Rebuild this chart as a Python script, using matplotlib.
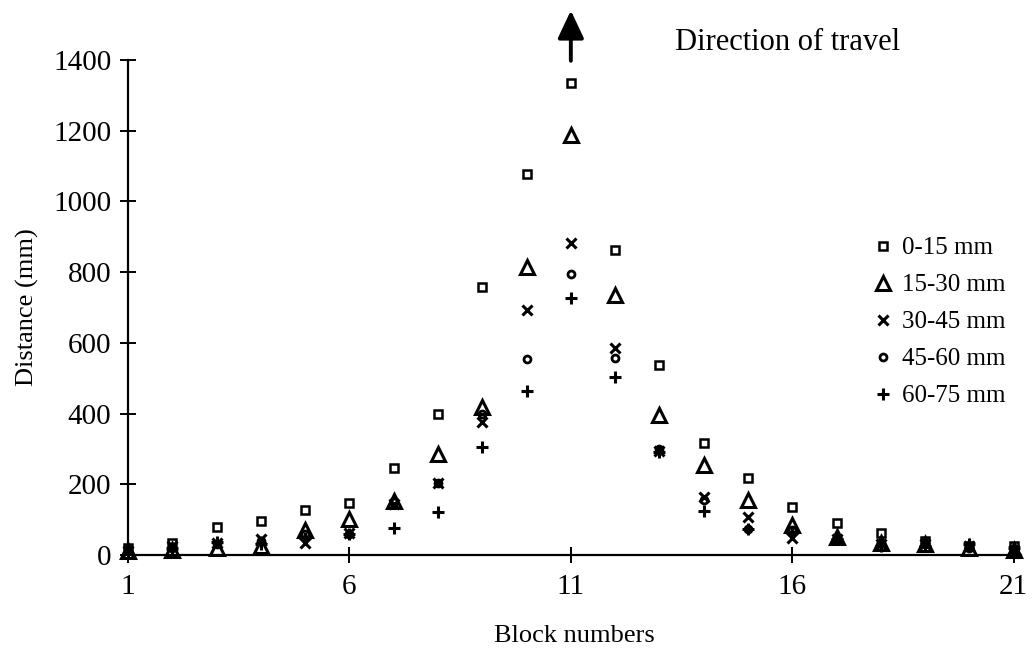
import numpy as np
import matplotlib.pyplot as plt

# Block numbers and distances (mm) per depth band
blocks = list(range(1, 22))
d_0_15 = [20, 35, 80, 95, 128, 147, 246, 400, 758, 1077, 1335, 862, 537, 316, 218, 136, 91, 62, 40, 25, 25]
d_15_30 = [10, 15, 20, 25, 70, 103, 152, 285, 418, 815, 1188, 735, 396, 255, 155, 85, 50, 35, 30, 20, 15]
d_30_45 = [10, 25, 35, 45, 35, 62, 145, 205, 376, 693, 882, 585, 295, 165, 108, 48, 45, 30, 30, 25, 15]
d_45_60 = [10, 20, 30, 40, 58, 60, 150, 205, 400, 554, 795, 557, 300, 155, 74, 70, 45, 35, 30, 20, 15]
d_60_75 = [5, 20, 38, 30, 48, 60, 76, 122, 305, 464, 727, 503, 290, 125, 74, 62, 45, 25, 25, 30, 20]

labels = ['0-15 mm', '15-30 mm', '30-45 mm', '45-60 mm', '60-75 mm']

plt.rcParams['font.family'] = ['Liberation Serif', 'DejaVu Serif']

fig = plt.figure(figsize=(10.35, 6.56), dpi=100)
ax = fig.add_axes([0.1237, 0.154, 0.8625, 0.7545])

style = dict(linestyle='none', color='black', clip_on=False)
ax.plot(blocks, d_0_15, marker='s', ms=5.5, mfc='white', mew=1.8, label=labels[0], **style)
ax.plot(blocks, d_15_30, marker='^', ms=10, mfc='none', mew=2.2, label=labels[1], **style)
ax.plot(blocks, d_30_45, marker='x', ms=7.5, mew=2.2, label=labels[2], **style)
ax.plot(blocks, d_45_60, marker='o', ms=5, mfc='none', mew=2, label=labels[3], **style)
ax.plot(blocks, d_60_75, marker='+', ms=8.5, mew=2.2, label=labels[4], **style)

ax.set_xlim(1, 21.16)
ax.set_ylim(0, 1400)
ax.set_xticks([1, 6, 11, 16, 21])
ax.set_yticks(np.arange(0, 1401, 200))
ax.spines['top'].set_visible(False)
ax.spines['right'].set_visible(False)
ax.spines['left'].set_linewidth(1.6)
ax.spines['bottom'].set_linewidth(1.6)
ax.tick_params(direction='inout', length=12, width=1.4, labelsize=21, pad=6)
ax.tick_params(axis='x', pad=8)

ax.set_xlabel('Block numbers', fontsize=19, labelpad=18)
ax.set_ylabel('Distance (mm)', fontsize=19, labelpad=10)

# arrow and direction note
ax.annotate('', xy=(11, 1548), xytext=(11, 1390), annotation_clip=False,
            arrowprops=dict(arrowstyle='-|>,head_length=1.7,head_width=0.8',
                            color='black', lw=2.8))
ax.text(13.35, 1450, 'Direction of travel', fontsize=22, ha='left', va='center')

ax.legend(loc='upper left', bbox_to_anchor=(0.826, 0.663), frameon=False,
          fontsize=18, handlelength=0.6, handletextpad=0.45, labelspacing=0.58,
          borderaxespad=0)

fig.savefig('out.png', dpi=100)
